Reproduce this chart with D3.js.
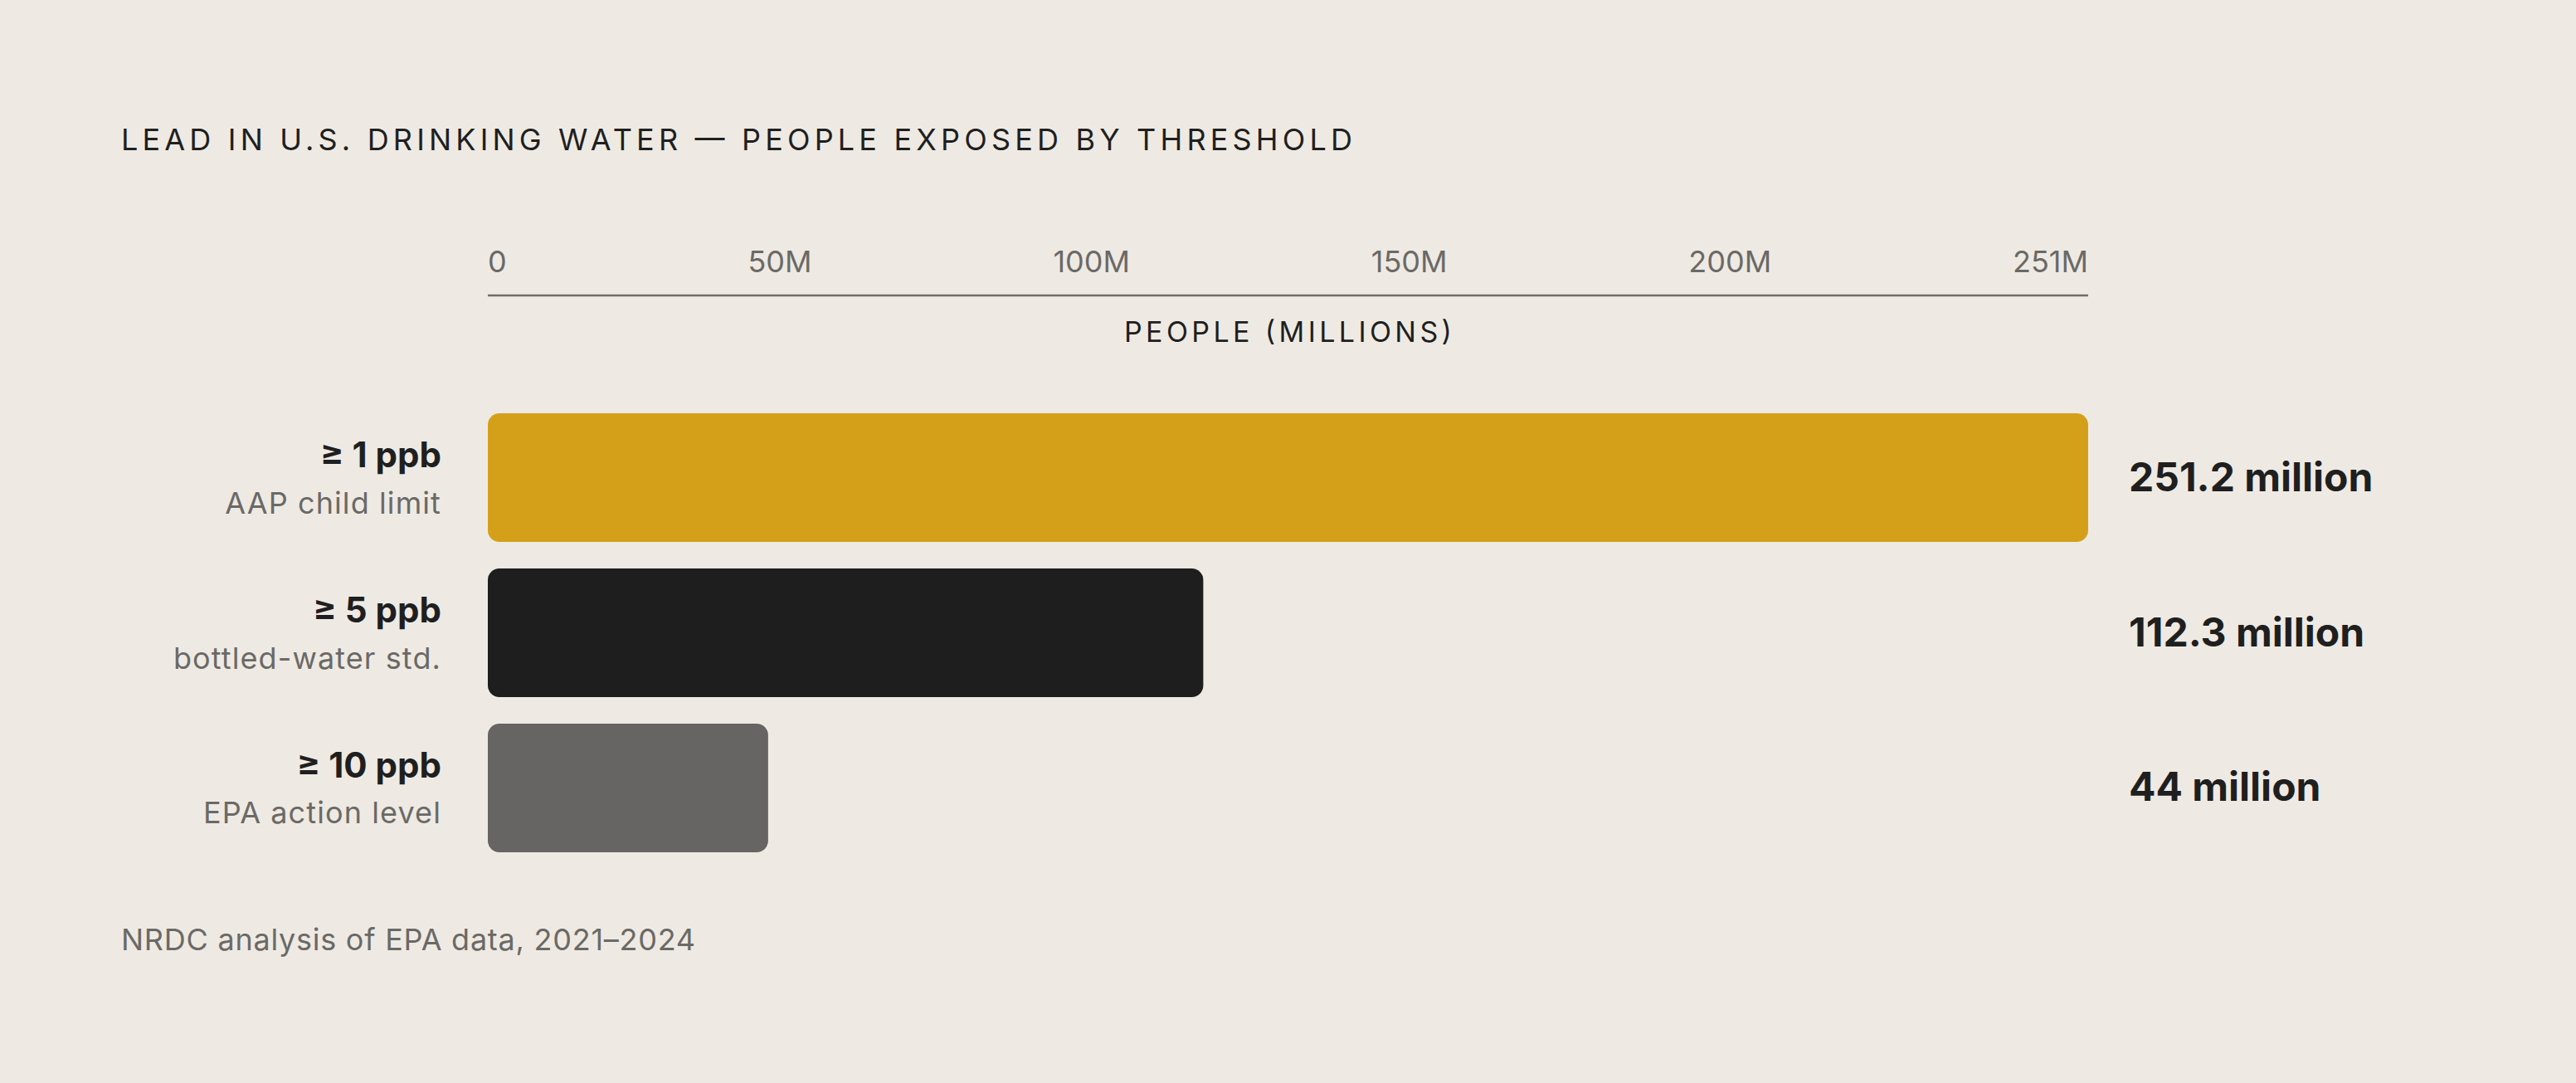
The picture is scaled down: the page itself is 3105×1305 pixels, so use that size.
<!DOCTYPE html>
<html>
<head>
<meta charset="utf-8">
<script src="https://cdn.jsdelivr.net/npm/d3@7"></script>
<style>
  html, body { margin: 0; padding: 0; background: #EEEAE3; }
  svg { display: block; }
  text { font-family: Inter, "Noto Sans", sans-serif; }
</style>
</head>
<body>
<svg id="chart" width="3105" height="1305"></svg>
<script>
// ---- data ----
const thresholds = ["≥ 1 ppb", "≥ 5 ppb", "≥ 10 ppb"];
const descriptions = ["AAP child limit", "bottled-water std.", "EPA action level"];
const peopleMillions = [251.2, 112.3, 44];
const valueLabels = ["251.2 million", "112.3 million", "44 million"];
const tickValues = [0, 50, 100, 150, 200, 251];
const tickLabels = ["0", "50M", "100M", "150M", "200M", "251M"];
const barColors = ["#D4A01A", "#1E1E1E", "#666563"];
const titleText = "LEAD IN U.S. DRINKING WATER — PEOPLE EXPOSED BY THRESHOLD";
const axisTitle = "PEOPLE (MILLIONS)";
const sourceText = "NRDC analysis of EPA data, 2021–2024";

const svg = d3.select("#chart");
svg.append("rect").attr("width", 3105).attr("height", 1305).attr("fill", "#EEEAE3");

const x = d3.scaleLinear().domain([0, d3.max(peopleMillions)]).range([588, 2517]);
const y = d3.scaleBand().domain(thresholds).range([498, 1027]).paddingInner(0.1711).paddingOuter(0);

// title
svg.append("text")
  .attr("x", 146).attr("y", 181)
  .attr("font-size", 36).attr("fill", "#1F1F1F")
  .attr("textLength", 1484).attr("lengthAdjust", "spacing")
  .text(titleText);

// axis line
svg.append("line")
  .attr("x1", x.range()[0]).attr("x2", x.range()[1])
  .attr("y1", 356).attr("y2", 356)
  .attr("stroke", "#6F6D69").attr("stroke-width", 2.5);

// tick labels (distributed space-between across axis)
const ticks = svg.append("g").selectAll("text")
  .data(tickValues)
  .join("text")
  .attr("y", 328)
  .attr("font-size", 36).attr("fill", "#6B6966")
  .text((d, i) => tickLabels[i]);
const widths = ticks.nodes().map(n => n.getComputedTextLength());
const totalW = d3.sum(widths);
const gap = (x.range()[1] - x.range()[0] - totalW) / (tickValues.length - 1);
let cursor = x.range()[0];
ticks.each(function(d, i) {
  d3.select(this).attr("x", cursor);
  cursor += widths[i] + gap;
});

// axis title
svg.append("text")
  .attr("x", (x.range()[0] + x.range()[1]) / 2).attr("y", 412)
  .attr("text-anchor", "middle")
  .attr("font-size", 34).attr("fill", "#1F1F1F")
  .attr("textLength", 395).attr("lengthAdjust", "spacing")
  .text(axisTitle);

// bars
svg.append("g").selectAll("rect")
  .data(thresholds)
  .join("rect")
  .attr("x", x(0))
  .attr("y", d => y(d))
  .attr("width", (d, i) => x(peopleMillions[i]) - x(0))
  .attr("height", y.bandwidth())
  .attr("rx", 14).attr("ry", 14)
  .attr("fill", (d, i) => barColors[i]);

// category labels
const cat = svg.append("g").selectAll("g")
  .data(thresholds)
  .join("g")
  .attr("transform", d => `translate(532, ${y(d) + y.bandwidth() / 2})`);
cat.append("text")
  .attr("y", -12.5)
  .attr("text-anchor", "end")
  .attr("font-size", 42).attr("font-weight", 700).attr("fill", "#1F1F1F")
  .text(d => d);
cat.append("text")
  .attr("y", 43)
  .attr("text-anchor", "end")
  .attr("font-size", 36).attr("letter-spacing", 1.1).attr("fill", "#6B6966")
  .text((d, i) => descriptions[i]);

// value labels
svg.append("g").selectAll("text")
  .data(thresholds)
  .join("text")
  .attr("x", 2566)
  .attr("y", d => y(d) + y.bandwidth() / 2 + 16)
  .attr("font-size", 48).attr("font-weight", 700).attr("fill", "#1F1F1F")
  .text((d, i) => valueLabels[i]);

// source
svg.append("text")
  .attr("x", 146).attr("y", 1145)
  .attr("font-size", 36).attr("letter-spacing", 0.75).attr("fill", "#6B6966")
  .text(sourceText);
</script>
</body>
</html>
